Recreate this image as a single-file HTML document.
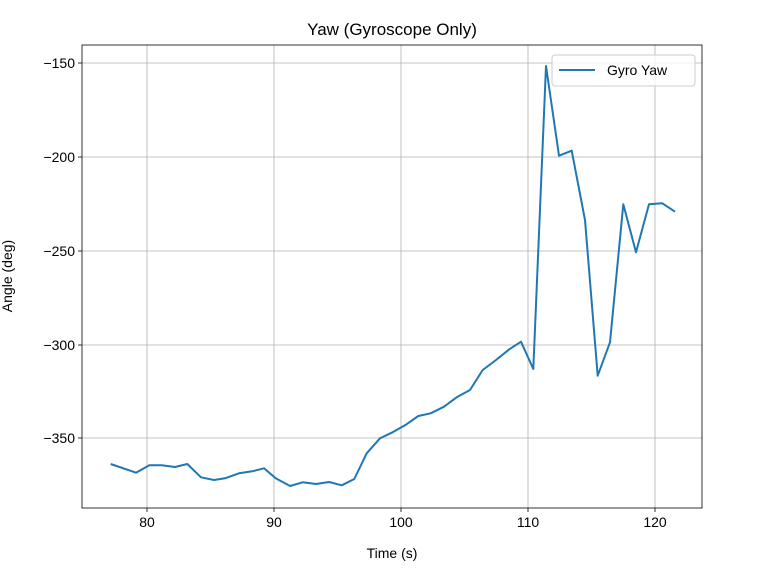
<!DOCTYPE html>
<html><head><style>body{margin:0;background:#fff}</style></head><body>
<svg width="782" height="576" xmlns="http://www.w3.org/2000/svg" font-family="Liberation Sans, DejaVu Sans, sans-serif">
<rect width="782" height="576" fill="#fff"/>
<g stroke="#b0b0b0" stroke-width="0.8">
<line x1="147" y1="45" x2="147" y2="508"/><line x1="274" y1="45" x2="274" y2="508"/><line x1="401" y1="45" x2="401" y2="508"/><line x1="528" y1="45" x2="528" y2="508"/><line x1="655" y1="45" x2="655" y2="508"/>
<line x1="82" y1="63" x2="702" y2="63"/><line x1="82" y1="157" x2="702" y2="157"/><line x1="82" y1="251" x2="702" y2="251"/><line x1="82" y1="345" x2="702" y2="345"/><line x1="82" y1="438" x2="702" y2="438"/>
</g>
<polyline fill="none" stroke="#1f77b4" stroke-width="2" stroke-linejoin="round" points="110.7,464 136,472.7 149.3,465.3 161.7,465.3 175,467 187.3,464 201,477.3 214,480 225,478.3 239,473.3 252.3,471.3 264,468.3 275.7,478.3 290,486 302.7,482.3 316,484 329,482 341.7,485.3 354.3,479 366.7,453.3 380,438.3 391.7,432.7 405,425.3 418.3,416 430.7,413.3 444,406.7 456.7,397.3 470,390 482.7,370 496,360 509.3,349.3 521,341.7 533.3,369 546,66 559,155.7 571.7,150.7 585,220 597.7,375.7 610,342.3 623.3,204.3 636,252.3 649,204.3 662.3,203.3 675,211.7"/>
<rect x="82" y="45" width="620" height="463" fill="none" stroke="#000" stroke-width="0.8"/>
<g stroke="#000" stroke-width="0.8">
<line x1="147" y1="508" x2="147" y2="512"/><line x1="274" y1="508" x2="274" y2="512"/><line x1="401" y1="508" x2="401" y2="512"/><line x1="528" y1="508" x2="528" y2="512"/><line x1="655" y1="508" x2="655" y2="512"/>
<line x1="78" y1="63" x2="82" y2="63"/><line x1="78" y1="157" x2="82" y2="157"/><line x1="78" y1="251" x2="82" y2="251"/><line x1="78" y1="345" x2="82" y2="345"/><line x1="78" y1="438" x2="82" y2="438"/>
</g>
<g font-size="14" fill="#000" text-anchor="middle">
<text x="147" y="527">80</text><text x="274" y="527">90</text><text x="401" y="527">100</text><text x="528" y="527">110</text><text x="655" y="527">120</text>
<text x="392" y="558">Time (s)</text>
<text x="392" y="35" font-size="17">Yaw (Gyroscope Only)</text>
<text transform="translate(12,276) rotate(-90)">Angle (deg)</text>
</g>
<g font-size="14" fill="#000" text-anchor="end">
<text x="75" y="68">−150</text><text x="75" y="162">−200</text><text x="75" y="256">−250</text><text x="75" y="350">−300</text><text x="75" y="443">−350</text>
</g>
<rect x="552" y="55" width="143" height="31" rx="3" fill="#fff" fill-opacity="0.8" stroke="#ccc"/>
<line x1="559" y1="70" x2="595" y2="70" stroke="#1f77b4" stroke-width="2"/>
<text x="607" y="75" font-size="14">Gyro Yaw</text>
</svg>
</body></html>
